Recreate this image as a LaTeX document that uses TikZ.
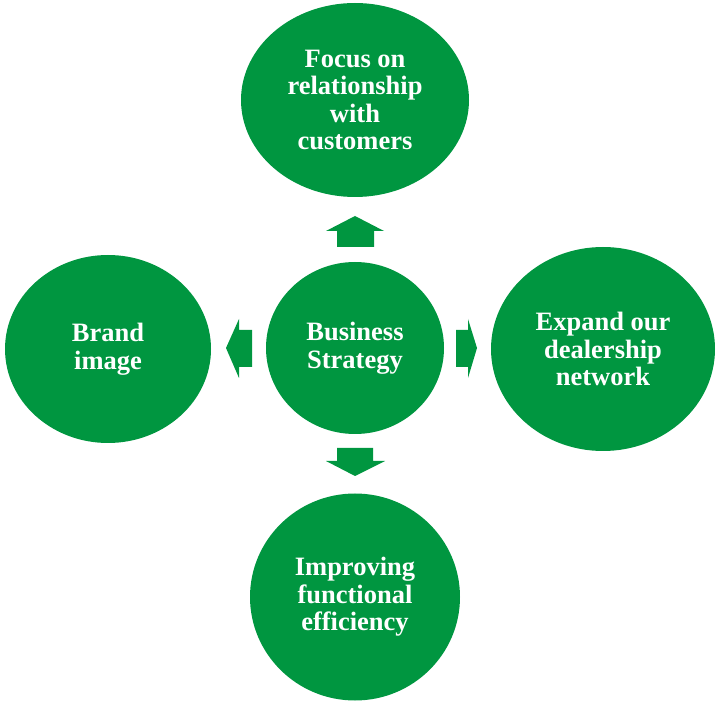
\documentclass[tikz,border=0pt]{standalone}
\usepackage{fontspec}
\setmainfont{Liberation Serif}
\usetikzlibrary{shapes.geometric}
\definecolor{bgreen}{HTML}{009640}
\tikzset{
  blob/.style={ellipse, fill=bgreen, draw=none, inner sep=0pt, text=white,
    font=\bfseries\fontsize{26.5}{27.5}\selectfont, align=center},
  arrowshape/.style={fill=bgreen, draw=none}
}
\begin{document}
\begin{tikzpicture}[x=1pt,y=-1pt]
\useasboundingbox (0,0) rectangle (718,708);
\node[blob, minimum width=228pt, minimum height=194pt] (top) at (355,100) {Focus on\\relationship\\with\\customers};
\node[blob, minimum width=206pt, minimum height=188pt] (left) at (108,349) {Brand\\image};
\node[blob, minimum width=178pt, minimum height=172pt] (center) at (355,348) {Business\\Strategy};
\node[blob, minimum width=224pt, minimum height=204pt] (right) at (603,349) {Expand our\\dealership\\network};
\node[blob, minimum width=210pt, minimum height=207pt] (bottom) at (355,597) {Improving\\functional\\efficiency};
% arrows
\fill[arrowshape] (337,247) -- (337,231) -- (326,231) -- (355,216) -- (384,231) -- (374,231) -- (374,247) -- cycle;
\fill[arrowshape] (252,330) -- (239,330) -- (239,319) -- (226,348) -- (239,378) -- (239,367) -- (252,367) -- cycle;
\fill[arrowshape] (456,330) -- (468,330) -- (468,319) -- (477,348) -- (468,378) -- (468,367) -- (456,367) -- cycle;
\fill[arrowshape] (337,448) -- (373,448) -- (373,461) -- (385,461) -- (355,476) -- (326,461) -- (337,461) -- cycle;
\end{tikzpicture}
\end{document}
